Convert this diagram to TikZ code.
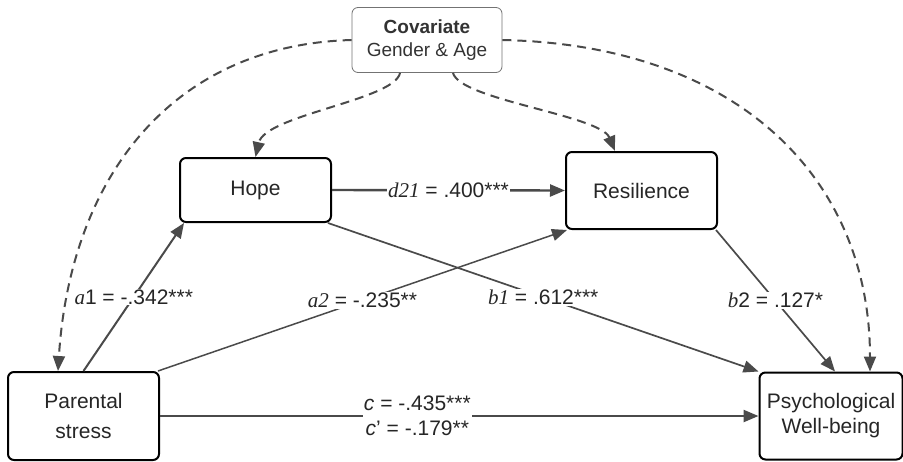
\documentclass[tikz,border=0pt]{standalone}
\usepackage{fontspec}
\setmainfont{Liberation Sans}
\newfontfamily\varfont{Liberation Serif}
\usetikzlibrary{arrows.meta}
\newcommand{\cv}[1]{{\varfont\itshape #1}}
\definecolor{linegray}{HTML}{4A4A4A}

\begin{document}
\begin{tikzpicture}[x=1pt, y=-1pt,
    font=\fontsize{21}{25}\selectfont,
    var/.style={draw=black, line width=2pt, rounded corners=6pt, fill=white,
      minimum width=151pt, align=center, text=black!85},
    path/.style={draw=linegray, line width=2pt, -{Triangle[length=15pt,width=12pt]}},
    covpath/.style={path, dash pattern=on 9pt off 6pt},
    coef/.style={fill=white, inner sep=1pt, text=black!85}]
  \useasboundingbox (0,0) rectangle (903,461);
  % variables
  \node [var, draw=black!55, line width=0.8pt, minimum width=150pt, minimum height=65pt,
    text=black!80, font=\fontsize{19}{23}\selectfont] (covar) at (427,40)
    {\textbf{Covariate}\\Gender \& Age};
  \node [var, minimum height=64pt] (hope) at (255.5,190) {Hope};
  \node [var, minimum height=77pt] (res) at (641.5,190.5) {Resilience};
  \node [var, minimum height=88pt] (ps) at (83.5,416) {Parental\\[5pt]stress};
  \node [var, minimum width=143pt, minimum height=87pt] (pwb) at (831,416)
    {Psychological\\Well-being};
  % covariate paths
  \draw [covpath] (covar.west) .. controls (170,45) and (70,180) .. ([xshift=-25.5]ps.north);
  \draw [covpath] (covar.east) .. controls (740,45) and (870,180) .. ([xshift=39]pwb.north);
  \draw [covpath] ([xshift=-27]covar.south) .. controls (395,100) and (265,115) .. (hope.north);
  \draw [covpath] ([xshift=26]covar.south) .. controls (460,100) and (600,115) .. ([xshift=-26.5]res.north);
  % mediation paths
  \draw [path, line width=2.4pt] (hope.east) -- node [coef] {\cv{d21} = .400***} (res.west);
  \draw [path] (ps.north) -- node [coef] {\cv{a}1 = -.342***} ([xshift=5]hope.south west);
  \draw [path, line width=1.5pt] ([xshift=-2]ps.north east) -- node [coef] {\cv{a2} = -.235**}
    ([xshift=2]res.south west);
  \draw [path, line width=1.7pt] ([xshift=-4]hope.south east) -- node [coef] {\cv{b1} = .612***}
    (pwb.north west);
  \draw [path, line width=1.7pt] ([xshift=-2]res.south east) -- node [coef] {\cv{b}2 = .127*}
    ([xshift=4]pwb.north);
  \draw [path, line width=2.4pt] (ps.east) -- node [coef, pos=0.43, align=center,
    font=\fontsize{21}{25}\selectfont] {\textit{c} = -.435***\\\textit{c}' = -.179**} (pwb.west);
\end{tikzpicture}
\end{document}
